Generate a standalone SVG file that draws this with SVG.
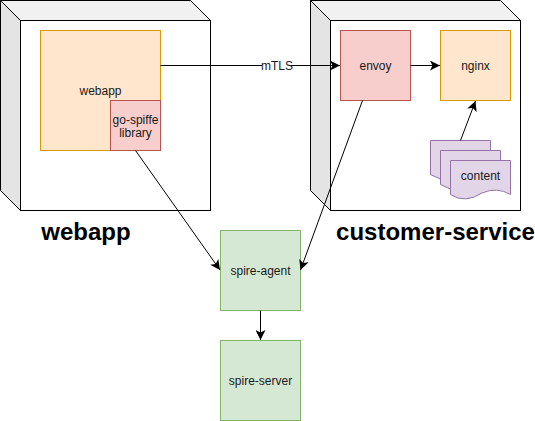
<svg xmlns="http://www.w3.org/2000/svg" width="535" height="421" viewBox="0 0 535 421">
<style>
text{font-family:"Liberation Sans",Arial,sans-serif;font-size:12px;fill:#1a1a1a;text-anchor:middle}
.t{font-size:24px;font-weight:700;fill:#000}
.b{fill:#fff;stroke:#000}.l{fill:#e4e4e4;stroke:#000}.u{fill:#f1f1f1;stroke:#000}
.o{fill:#ffe6cc;stroke:#d79b00}.r{fill:#f8cecc;stroke:#b85450}.g{fill:#d5e8d4;stroke:#82b366}.p{fill:#e1d5e7;stroke:#9673a6}
.c{fill:none;stroke:#000;marker-end:url(#a)}
</style>
<defs><marker id="a" markerUnits="userSpaceOnUse" markerWidth="10" markerHeight="10" refX="8" refY="4" orient="auto" viewBox="0 0 8 8"><path d="M0 0L8 4L0 8L2 4Z" fill="#000"/></marker></defs>
<rect width="535" height="421" fill="#fff"/>
<g id="node-webapp-box"><path class="l" d="M.5.5L20.5 20.5V210.5L.5 190.5Z"/><path class="u" d="M.5.5H190.5L210.5 20.5H20.5Z"/><rect class="b" x="20.5" y="20.5" width="190" height="190"/></g>
<g id="node-customer-box"><path class="l" d="M310.5.5L330.5 20.5V210.5L310.5 190.5Z"/><path class="u" d="M310.5.5H500.5L520.5 20.5H330.5Z"/><rect class="b" x="330.5" y="20.5" width="190" height="190"/></g>
<g id="node-webapp"><rect class="o" x="40.5" y="30.5" width="120" height="120"/><text x="100.5" y="95">webapp</text></g>
<g id="node-gospiffe"><rect class="r" x="110.5" y="100.5" width="50" height="50"/><text x="135.5" y="124">go-spiffe</text><text x="135.5" y="137">library</text></g>
<g id="node-envoy"><rect class="r" x="340.5" y="30.5" width="70" height="70"/><text x="375.5" y="70">envoy</text></g>
<g id="node-nginx"><rect class="o" x="440.5" y="30.5" width="70" height="70"/><text x="475.5" y="70">nginx</text></g>
<g id="node-content">
<path class="p" d="M430.5 140.5H490.5V175.5L470 176L460 188L430.5 174.5Z"/>
<path class="p" d="M440.5 150.5H500.5V185.5L480 186L470 198L440.5 184.5Z"/>
<path class="p" d="M450.5 160.5H510.5V194.5Q497 186.5 482 193Q465 204 450.5 194.5Z"/>
<text x="480.5" y="180">content</text></g>
<g id="node-agent"><rect class="g" x="220.5" y="230.5" width="80" height="80"/><text x="260.5" y="275">spire-agent</text></g>
<g id="node-server"><rect class="g" x="220.5" y="340.5" width="80" height="80"/><text x="260.5" y="385">spire-server</text></g>
<g id="connectors">
<path class="c" d="M160.5 65.5H340"/>
<path class="c" d="M410.5 65.5H440"/>
<path class="c" d="M460.5 140.5L475.5 101"/>
<path class="c" d="M135.5 150.5L220 270"/>
<path class="c" d="M362.5 100.5L300.5 270"/>
<path class="c" d="M260.5 310.5V340"/>
</g>
<g id="label-mtls"><rect x="262" y="59" width="29" height="13" fill="#fff"/><text x="277" y="70">mTLS</text></g>
<text class="t" x="86" y="240">webapp</text>
<text class="t" x="435.5" y="240">customer-service</text>
</svg>
